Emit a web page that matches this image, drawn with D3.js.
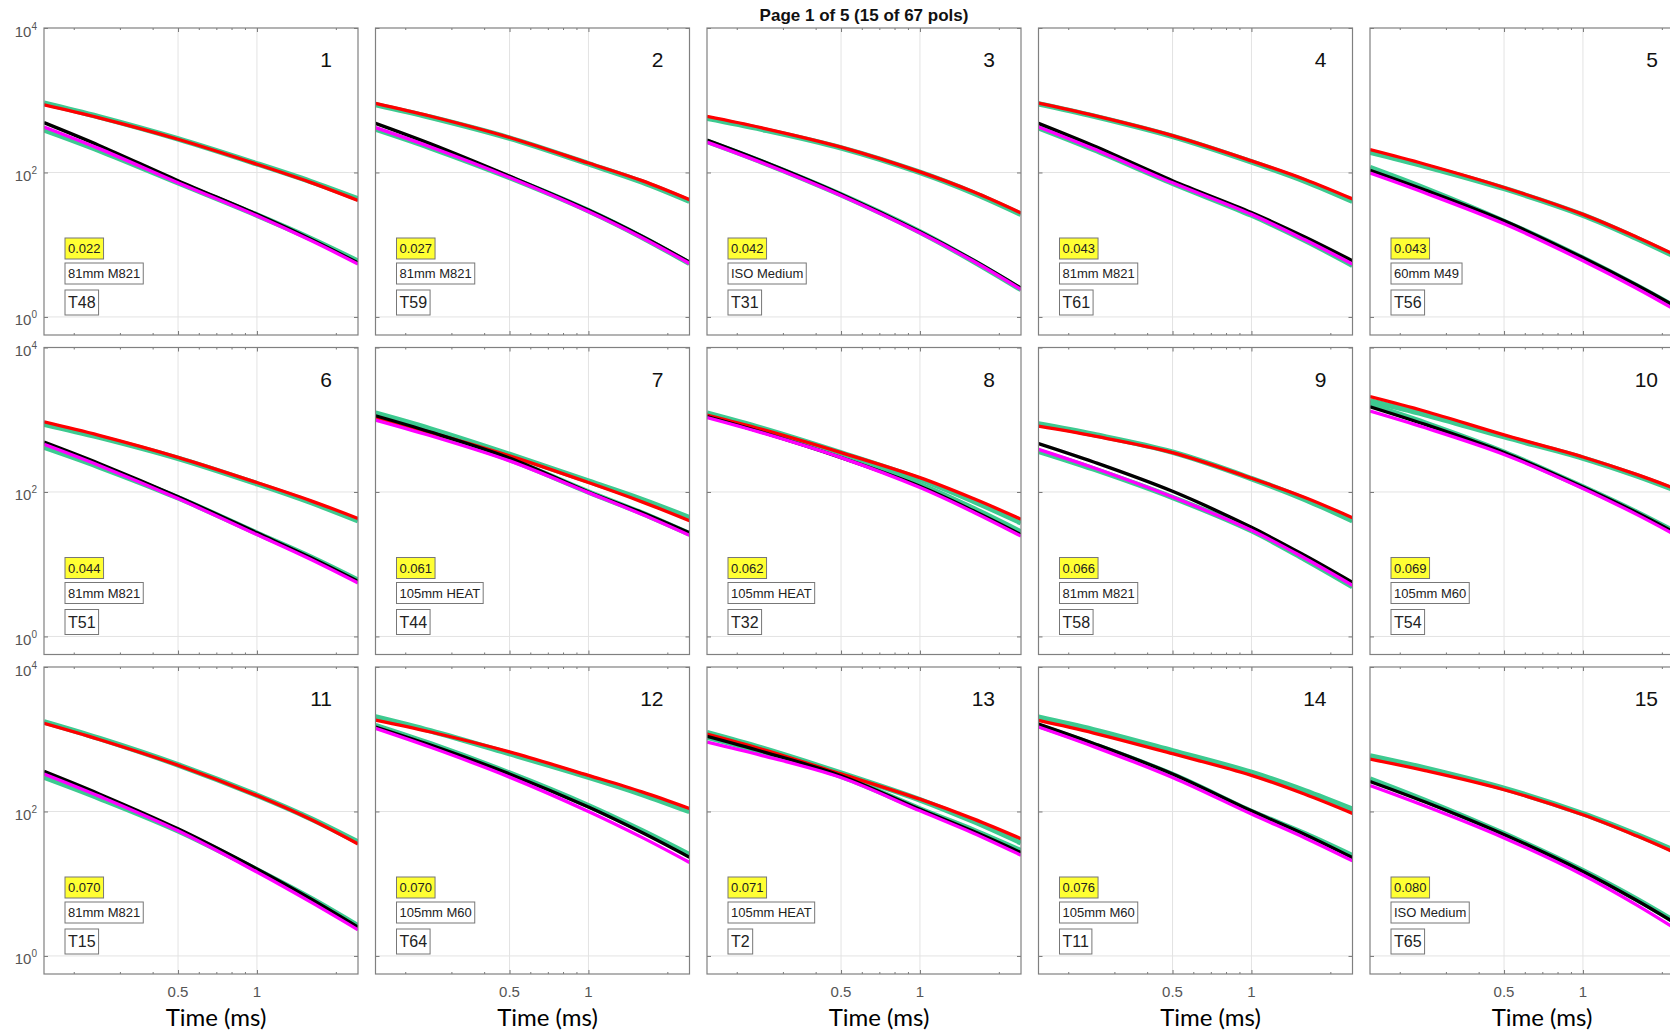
<!DOCTYPE html>
<html>
<head>
<meta charset="utf-8">
<script src="https://cdn.jsdelivr.net/npm/d3@7"></script>
<style>
  body { margin: 0; background: #fff; }
  svg { display: block; font-family: "Liberation Sans", Arial, sans-serif; }
</style>
</head>
<body>
<div id="chart"></div>
<script>
const times = [0.154, 0.25, 0.5, 1, 1.6, 2.43];

const misfits = ["0.022","0.027","0.042","0.043","0.043","0.044","0.061","0.062","0.066","0.069","0.070","0.070","0.071","0.076","0.080"];
const sources = ["81mm M821","81mm M821","ISO Medium","81mm M821","60mm M49","81mm M821","105mm HEAT","105mm HEAT","81mm M821","105mm M60","81mm M821","105mm M60","105mm HEAT","105mm M60","ISO Medium"];
const targets = ["T48","T59","T31","T61","T56","T51","T44","T32","T58","T54","T15","T64","T2","T11","T65"];

// one row per panel, values at the time gates above
const redVals = [
  [861, 569, 288, 130, 73, 41],
  [904, 600, 305, 135, 77, 42],
  [597, 413, 224, 102, 54, 27.5],
  [912, 617, 324, 145, 80, 43],
  [207, 130, 62, 26.3, 12.8, 6.3],
  [933, 608, 302, 135, 76, 43],
  [1047, 664, 316, 135, 73, 40],
  [1161, 736, 351, 158, 81, 42],
  [813, 596, 351, 155, 84, 44],
  [2089, 1312, 617, 305, 175, 100],
  [1660, 993, 437, 166, 78, 35.5],
  [1841, 1259, 668, 316, 187, 110],
  [1175, 724, 331, 148, 79, 42],
  [1820, 1219, 631, 316, 173, 94],
  [531, 368, 200, 90, 46, 23.7]
];
const greenUpperVals = [
  [912, 589, 292, 132, 75, 43],
  [871, 581, 299, 132, 74, 40],
  [562, 395, 219, 100, 52, 26.3],
  [891, 603, 316, 140, 76, 40],
  [191, 122, 60, 25.7, 12.3, 6.0],
  [871, 575, 292, 130, 72, 40],
  [1230, 743, 331, 141, 78.5, 44],
  [1230, 758, 347, 150, 74.5, 37.6],
  [871, 624, 355, 153, 79, 40],
  [1820, 1180, 582, 295, 168, 95],
  [1738, 1026, 442, 168, 80, 37.6],
  [2042, 1306, 631, 299, 173, 100],
  [1230, 750, 339, 145, 73, 37],
  [2018, 1349, 692, 347, 193, 107],
  [589, 398, 209, 93, 48, 25.1]
];
const blackVals = [
  [490, 237, 77, 26.3, 12.0, 5.6],
  [479, 249, 89, 30.2, 13.1, 5.75],
  [282, 144, 50, 15.1, 6.1, 2.5],
  [479, 234, 77, 27.9, 12.8, 6.0],
  [107, 57, 21.4, 6.6, 2.77, 1.2],
  [490, 248, 86, 27.2, 12.4, 5.8],
  [1135, 676, 295, 100, 52, 27.2],
  [1109, 670, 299, 120, 55, 25.7],
  [468, 260, 102, 32.4, 13.2, 5.6],
  [1514, 861, 351, 117, 52, 23.4],
  [359, 175, 57.5, 16.0, 6.2, 2.5],
  [1479, 829, 331, 115, 51, 23.2],
  [1096, 676, 313, 107, 53, 26.9],
  [1622, 875, 331, 102, 48, 22.9],
  [260, 135, 48, 14.8, 5.9, 2.4]
];
const magentaVals = [
  [427, 214, 72, 25.1, 11.5, 5.4],
  [417, 225, 85, 28.8, 12.5, 5.5],
  [263, 136, 48, 14.6, 5.9, 2.4],
  [427, 213, 72, 26.3, 11.7, 5.4],
  [98, 52, 19.5, 6.0, 2.5, 1.07],
  [457, 233, 81, 25.7, 11.7, 5.5],
  [989, 600, 269, 98, 49, 25.1],
  [1072, 657, 299, 115, 52.5, 24.5],
  [389, 216, 85, 29.5, 12.1, 5.1],
  [1318, 774, 331, 112, 49, 21.9],
  [331, 163, 54, 14.5, 5.6, 2.3],
  [1413, 773, 299, 100, 43.8, 19.7],
  [912, 594, 295, 102, 50, 24.8],
  [1479, 791, 295, 92, 43, 20.7],
  [229, 119, 43, 13.2, 5.1, 2.0]
];
const greenLowerVals = [
  [389, 202, 72, 25.7, 12.2, 5.9],
  [398, 219, 85, 29.5, 12.7, 5.5],
  [269, 139, 49, 15.0, 5.9, 2.4],
  [417, 208, 71, 25.7, 11.5, 5.2],
  [117, 60, 21, 6.5, 2.7, 1.17],
  [417, 223, 83, 26.9, 12.6, 6.0],
  [1072, 641, 282, 100, 51, 26.3],
  [1148, 700, 316, 127, 59, 27.9],
  [367, 208, 84, 29.2, 11.7, 4.9],
  [1622, 902, 355, 117, 52.5, 24],
  [299, 153, 54, 15.5, 6.3, 2.6],
  [1549, 861, 339, 120, 54, 25.1],
  [1072, 667, 309, 108, 55, 28.5],
  [1549, 843, 324, 100, 49, 24.3],
  [282, 142, 49, 15.1, 6.1, 2.5]
];

const xMajor = [0.5, 1];
const xMinor = [0.2, 0.3, 0.4, 0.6, 0.7, 0.8, 0.9, 2];
const yMajor = [1, 100, 10000];

const W = 1670, H = 1034;
const pw = 314, ph = 307;
const nCols = 5;
const colLeft = c => 44 + c * 331.5;
const rowTop = r => 28 + r * 319.5;

const svg = d3.select('#chart').append('svg')
    .attr('width', W).attr('height', H);

svg.append('text')
    .attr('x', 864).attr('y', 21)
    .attr('text-anchor', 'middle')
    .style('font-weight', 'bold').style('font-size', '17px')
    .attr('fill', '#111')
    .text('Page 1 of 5 (15 of 67 pols)');

const x = d3.scaleLog().domain([0.154, 2.43]).range([0, pw]);
const y = d3.scaleLog().domain([Math.pow(10, -0.25), 1e4]).range([ph, 0]);

const line = d3.line()
    .x(d => x(d[0]))
    .y(d => y(d[1]))
    .curve(d3.curveCatmullRom.alpha(0.5));

const styles = [
  {vals: greenUpperVals, color: '#3dca90', w: 5.5},
  {vals: greenLowerVals, color: '#3dca90', w: 5.5},
  {vals: redVals, color: '#ff0000', w: 3.3},
  {vals: blackVals, color: '#000000', w: 3.3},
  {vals: magentaVals, color: '#ff00ff', w: 3.3}
];

targets.forEach((t, i) => {
    const col = i % nCols, row = Math.floor(i / nCols);
    const g = svg.append('g')
        .attr('transform', `translate(${colLeft(col)},${rowTop(row)})`);

    g.append('clipPath').attr('id', 'clip' + i)
      .append('rect').attr('width', pw).attr('height', ph);

    // grid
    g.selectAll('.gx').data(xMajor).join('line')
        .attr('x1', d => x(d)).attr('x2', d => x(d))
        .attr('y1', 0).attr('y2', ph)
        .attr('stroke', '#e3e3e3');
    g.selectAll('.gy').data([1, 100]).join('line')
        .attr('y1', d => y(d)).attr('y2', d => y(d))
        .attr('x1', 0).attr('x2', pw)
        .attr('stroke', '#e3e3e3');

    // ticks pointing inward
    const tickAxes = [
      [d3.axisBottom(x).tickValues(xMajor).tickSize(-4), `translate(0,${ph})`],
      [d3.axisBottom(x).tickValues(xMinor).tickSize(-2), `translate(0,${ph})`],
      [d3.axisTop(x).tickValues(xMajor).tickSize(-4), null],
      [d3.axisTop(x).tickValues(xMinor).tickSize(-2), null],
      [d3.axisLeft(y).tickValues(yMajor).tickSize(-4), null],
      [d3.axisRight(y).tickValues(yMajor).tickSize(-4), `translate(${pw},0)`]
    ];
    tickAxes.forEach(([ax, tr]) => {
        const a = g.append('g').call(ax.tickFormat(''));
        if (tr) a.attr('transform', tr);
        a.select('.domain').remove();
        a.selectAll('line').attr('stroke', '#777');
    });

    // curves
    const lines = g.append('g').attr('clip-path', `url(#clip${i})`);
    styles.forEach(s => {
        lines.append('path')
            .datum(times.map((tm, k) => [tm, s.vals[i][k]]))
            .attr('d', line)
            .attr('fill', 'none')
            .attr('stroke', s.color)
            .attr('stroke-width', s.w)
            .attr('stroke-linejoin', 'round');
    });

    g.append('rect')
        .attr('width', pw).attr('height', ph)
        .attr('fill', 'none').attr('stroke', '#808080').attr('stroke-width', 1.2);

    // panel number
    g.append('text')
        .attr('x', 288).attr('y', 39)
        .attr('text-anchor', 'end')
        .style('font-size', '21px').attr('fill', '#111')
        .text(i + 1);

    // annotation boxes
    const boxes = [
      {txt: misfits[i], y: 210, h: 21, fs: 13, fill: '#ffff33'},
      {txt: sources[i], y: 235, h: 21, fs: 13, fill: '#fff'},
      {txt: t, y: 262, h: 25, fs: 16, fill: '#fff'}
    ];
    boxes.forEach(b => {
        const bg = g.append('g').attr('transform', `translate(21,${b.y})`);
        const r = bg.append('rect').attr('height', b.h)
            .attr('fill', b.fill).attr('stroke', '#777').attr('stroke-width', 1);
        const tx = bg.append('text')
            .attr('x', 3).attr('y', b.h / 2 + b.fs * 0.36)
            .style('font-size', b.fs + 'px').attr('fill', '#222')
            .text(b.txt);
        r.attr('width', tx.node().getComputedTextLength() + 6);
    });

    // y labels on first column
    if (col === 0) {
        const yl = g.append('g').selectAll('text').data(yMajor).join('text')
            .attr('x', -7).attr('y', d => y(d) + 8.5)
            .attr('text-anchor', 'end')
            .attr('fill', '#555');
        yl.append('tspan').style('font-size', '15px').text('10');
        yl.append('tspan').style('font-size', '10px').attr('dy', -7)
            .text(d => Math.round(Math.log10(d)));
    }

    // x labels on bottom row
    if (row === 2) {
        g.selectAll('.xl').data(xMajor).join('text')
            .attr('x', d => x(d)).attr('y', ph + 23)
            .attr('text-anchor', 'middle')
            .style('font-size', '15px').attr('fill', '#555')
            .text(d => d);
        g.append('text')
            .attr('x', 172).attr('y', ph + 52)
            .attr('text-anchor', 'middle')
            .style('font-family', 'Lato, sans-serif').style('font-size', '24px')
            .attr('fill', '#000')
            .text('Time (ms)');
    }
});
</script>
</body>
</html>
